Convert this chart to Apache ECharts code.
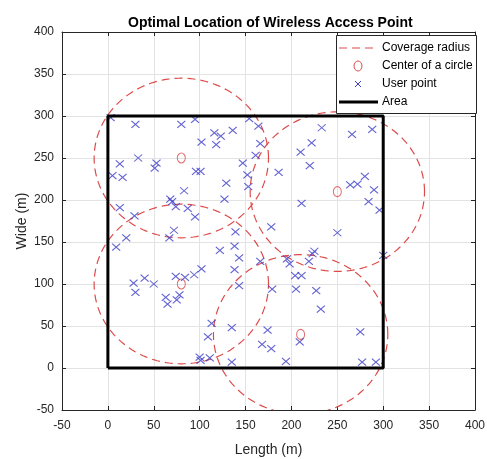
<!DOCTYPE html>
<html>
<head>
<meta charset="utf-8">
<script src="https://cdn.jsdelivr.net/npm/echarts@6/dist/echarts.min.js"></script>
<style>html,body{margin:0;padding:0;background:#fff;}#c{width:487px;height:459px;}</style>
</head>
<body>
<div id="c"></div>
<script>
// ---- data ----
var titleText = 'Optimal Location of Wireless Access Point';
var xName = 'Length (m)';
var yName = 'Wide (m)';
var axisTicks = [-50, 0, 50, 100, 150, 200, 250, 300, 350, 400];
var legendNames = ['Coverage radius', 'Center of a circle', 'User point', 'Area'];

var centers = [[80, 250], [250, 210], [80, 100], [210, 40]];
var radii = [95, 95, 95, 95];

var areaX = [0, 300, 300, 0, 0];
var areaY = [0, 0, 300, 300, 0];

var userX = [3, 30, 80, 95, 102, 116, 123, 118, 136, 13, 5, 16, 33, 53, 51, 96, 101, 129, 83, 127, 68, 70, 74, 13, 29, 87, 95, 20, 72, 67, 139,
  147, 152, 153, 161, 166, 164, 154,
  233, 266, 288, 222, 210, 186, 220, 280, 272, 264, 290, 284, 296, 211, 178, 250,
  9, 122, 138, 143, 138, 143, 102, 94, 84, 74, 78, 75, 63, 65, 40, 28, 50, 30, 113, 135, 109, 100, 101, 111, 135,
  166, 195, 198, 219, 223, 225, 300, 204, 211, 179, 205, 227, 232, 174, 168, 178, 209, 275, 194, 277, 292];
var userY = [298, 290, 290, 296, 269, 280, 276, 266, 283, 243, 229, 227, 250, 244, 238, 234, 234, 220, 211, 201, 201, 198, 192, 191, 181, 190, 180, 155, 164, 155, 162,
  244, 230, 216, 253, 267, 288, 297,
  286, 278, 284, 268, 257, 233, 241, 228, 219, 218, 212, 198, 188, 196, 168, 161,
  144, 140, 145, 131, 117, 98, 118, 111, 108, 109, 87, 81, 84, 76, 107, 101, 100, 90, 53, 48, 37, 13, 9, 12, 7,
  127, 130, 124, 127, 136, 139, 134, 110, 110, 94, 94, 92, 70, 45, 28, 23, 31, 43, 8, 7, 7];

// ---- build ----
var userData = userX.map(function (x, i) { return [x, userY[i]]; });
var areaData = areaX.map(function (x, i) { return [x, areaY[i]]; });

var RED = '#dd4a4a';
var BLUE = '#3c3cc8';
var AX = '#262626';
var font = 'Liberation Sans, Arial, Helvetica, sans-serif';

function mainAxis(pos, name, gap, rot) {
  return {
    type: 'value', position: pos, min: -50, max: 400, interval: 50,
    name: name, nameLocation: 'middle', nameGap: gap, nameRotate: rot, nameMoveOverlap: false,
    nameTextStyle: { color: AX, fontSize: 14, fontFamily: font },
    axisLine: { show: true, onZero: false, lineStyle: { color: AX, width: 1 } },
    axisTick: { show: true, inside: true, length: 4, lineStyle: { color: AX } },
    axisLabel: { color: AX, fontSize: 12, fontFamily: font, margin: pos === 'bottom' ? 10 : 8 },
    splitLine: { show: true, lineStyle: { color: '#e3e3e3', width: 1 } }
  };
}
function boxAxis(pos) {
  return {
    type: 'value', position: pos, min: -50, max: 400, interval: 50,
    axisLine: { show: true, onZero: false, lineStyle: { color: AX, width: 1 } },
    axisTick: { show: true, inside: true, length: 4, lineStyle: { color: AX } },
    axisLabel: { show: false }, splitLine: { show: false }
  };
}

var LX = 336, LY = 35, LW = 140, LH = 78;
var rows = [48, 66, 84, 102];

var chart = echarts.init(document.getElementById('c'), null, { renderer: 'canvas' });
chart.setOption({
  animation: false,
  backgroundColor: '#fff',
  title: {
    text: titleText, left: 123, top: 11,
    textStyle: { fontSize: 14, fontWeight: 'bold', color: '#000', fontFamily: font }
  },
  grid: { left: 62, right: 12, top: 32, bottom: 49, containLabel: false, outerBoundsMode: 'none' },
  xAxis: [mainAxis('bottom', xName, 33, 0), boxAxis('top')],
  yAxis: [mainAxis('left', yName, 33, 90), boxAxis('right')],
  series: [
    {
      name: legendNames[0], type: 'custom', clip: true, data: centers, z: 3,
      renderItem: function (params, api) {
        var cx = api.value(0), cy = api.value(1), r = radii[params.dataIndex];
        var pts = [];
        for (var a = 0; a <= 360; a += 2) {
          var t = a * Math.PI / 180;
          pts.push(api.coord([cx + r * Math.cos(t), cy + r * Math.sin(t)]));
        }
        return { type: 'polyline', shape: { points: pts },
          style: { stroke: RED, fill: null, lineWidth: 1.2, lineDash: [8, 5] } };
      }
    },
    {
      name: legendNames[1], type: 'scatter', data: centers, symbol: 'circle', symbolSize: [8, 10], z: 4,
      itemStyle: { color: 'none', borderColor: RED, borderWidth: 1.1 }
    },
    {
      name: legendNames[2], type: 'scatter', data: userData, z: 5,
      symbol: 'path://M0,0L10,10M10,0L0,10', symbolSize: [8, 7],
      itemStyle: { color: 'none', borderColor: BLUE, borderWidth: 1.1 }
    },
    {
      name: legendNames[3], type: 'line', data: areaData, symbol: 'none', z: 6,
      lineStyle: { color: '#000', width: 3 }
    }
  ],
  graphic: [
    { type: 'rect', left: LX, top: LY, z: 100, shape: { x: 0, y: 0, width: LW, height: LH },
      style: { fill: '#fff', stroke: AX, lineWidth: 1 } },
    { type: 'line', z: 101, shape: { x1: LX + 3, y1: rows[0], x2: LX + 41, y2: rows[0] },
      style: { stroke: RED, lineWidth: 1.2, lineDash: [8, 5] } },
    { type: 'ellipse', z: 101, shape: { cx: LX + 22, cy: rows[1], rx: 4, ry: 5 },
      style: { stroke: RED, fill: null, lineWidth: 1 } },
    { type: 'polyline', z: 101, shape: { points: [[LX + 19, rows[2] - 3], [LX + 25, rows[2] + 3]] },
      style: { stroke: BLUE, lineWidth: 1 } },
    { type: 'polyline', z: 101, shape: { points: [[LX + 25, rows[2] - 3], [LX + 19, rows[2] + 3]] },
      style: { stroke: BLUE, lineWidth: 1 } },
    { type: 'line', z: 101, shape: { x1: LX + 3, y1: rows[3], x2: LX + 42, y2: rows[3] },
      style: { stroke: '#000', lineWidth: 3 } },
    { type: 'text', z: 101, x: LX + 46, y: rows[0], style: { text: legendNames[0], fill: '#000', font: '12px ' + font, verticalAlign: 'middle' } },
    { type: 'text', z: 101, x: LX + 46, y: rows[1], style: { text: legendNames[1], fill: '#000', font: '12px ' + font, verticalAlign: 'middle' } },
    { type: 'text', z: 101, x: LX + 46, y: rows[2], style: { text: legendNames[2], fill: '#000', font: '12px ' + font, verticalAlign: 'middle' } },
    { type: 'text', z: 101, x: LX + 46, y: rows[3], style: { text: legendNames[3], fill: '#000', font: '12px ' + font, verticalAlign: 'middle' } }
  ]
});
</script>
</body>
</html>
